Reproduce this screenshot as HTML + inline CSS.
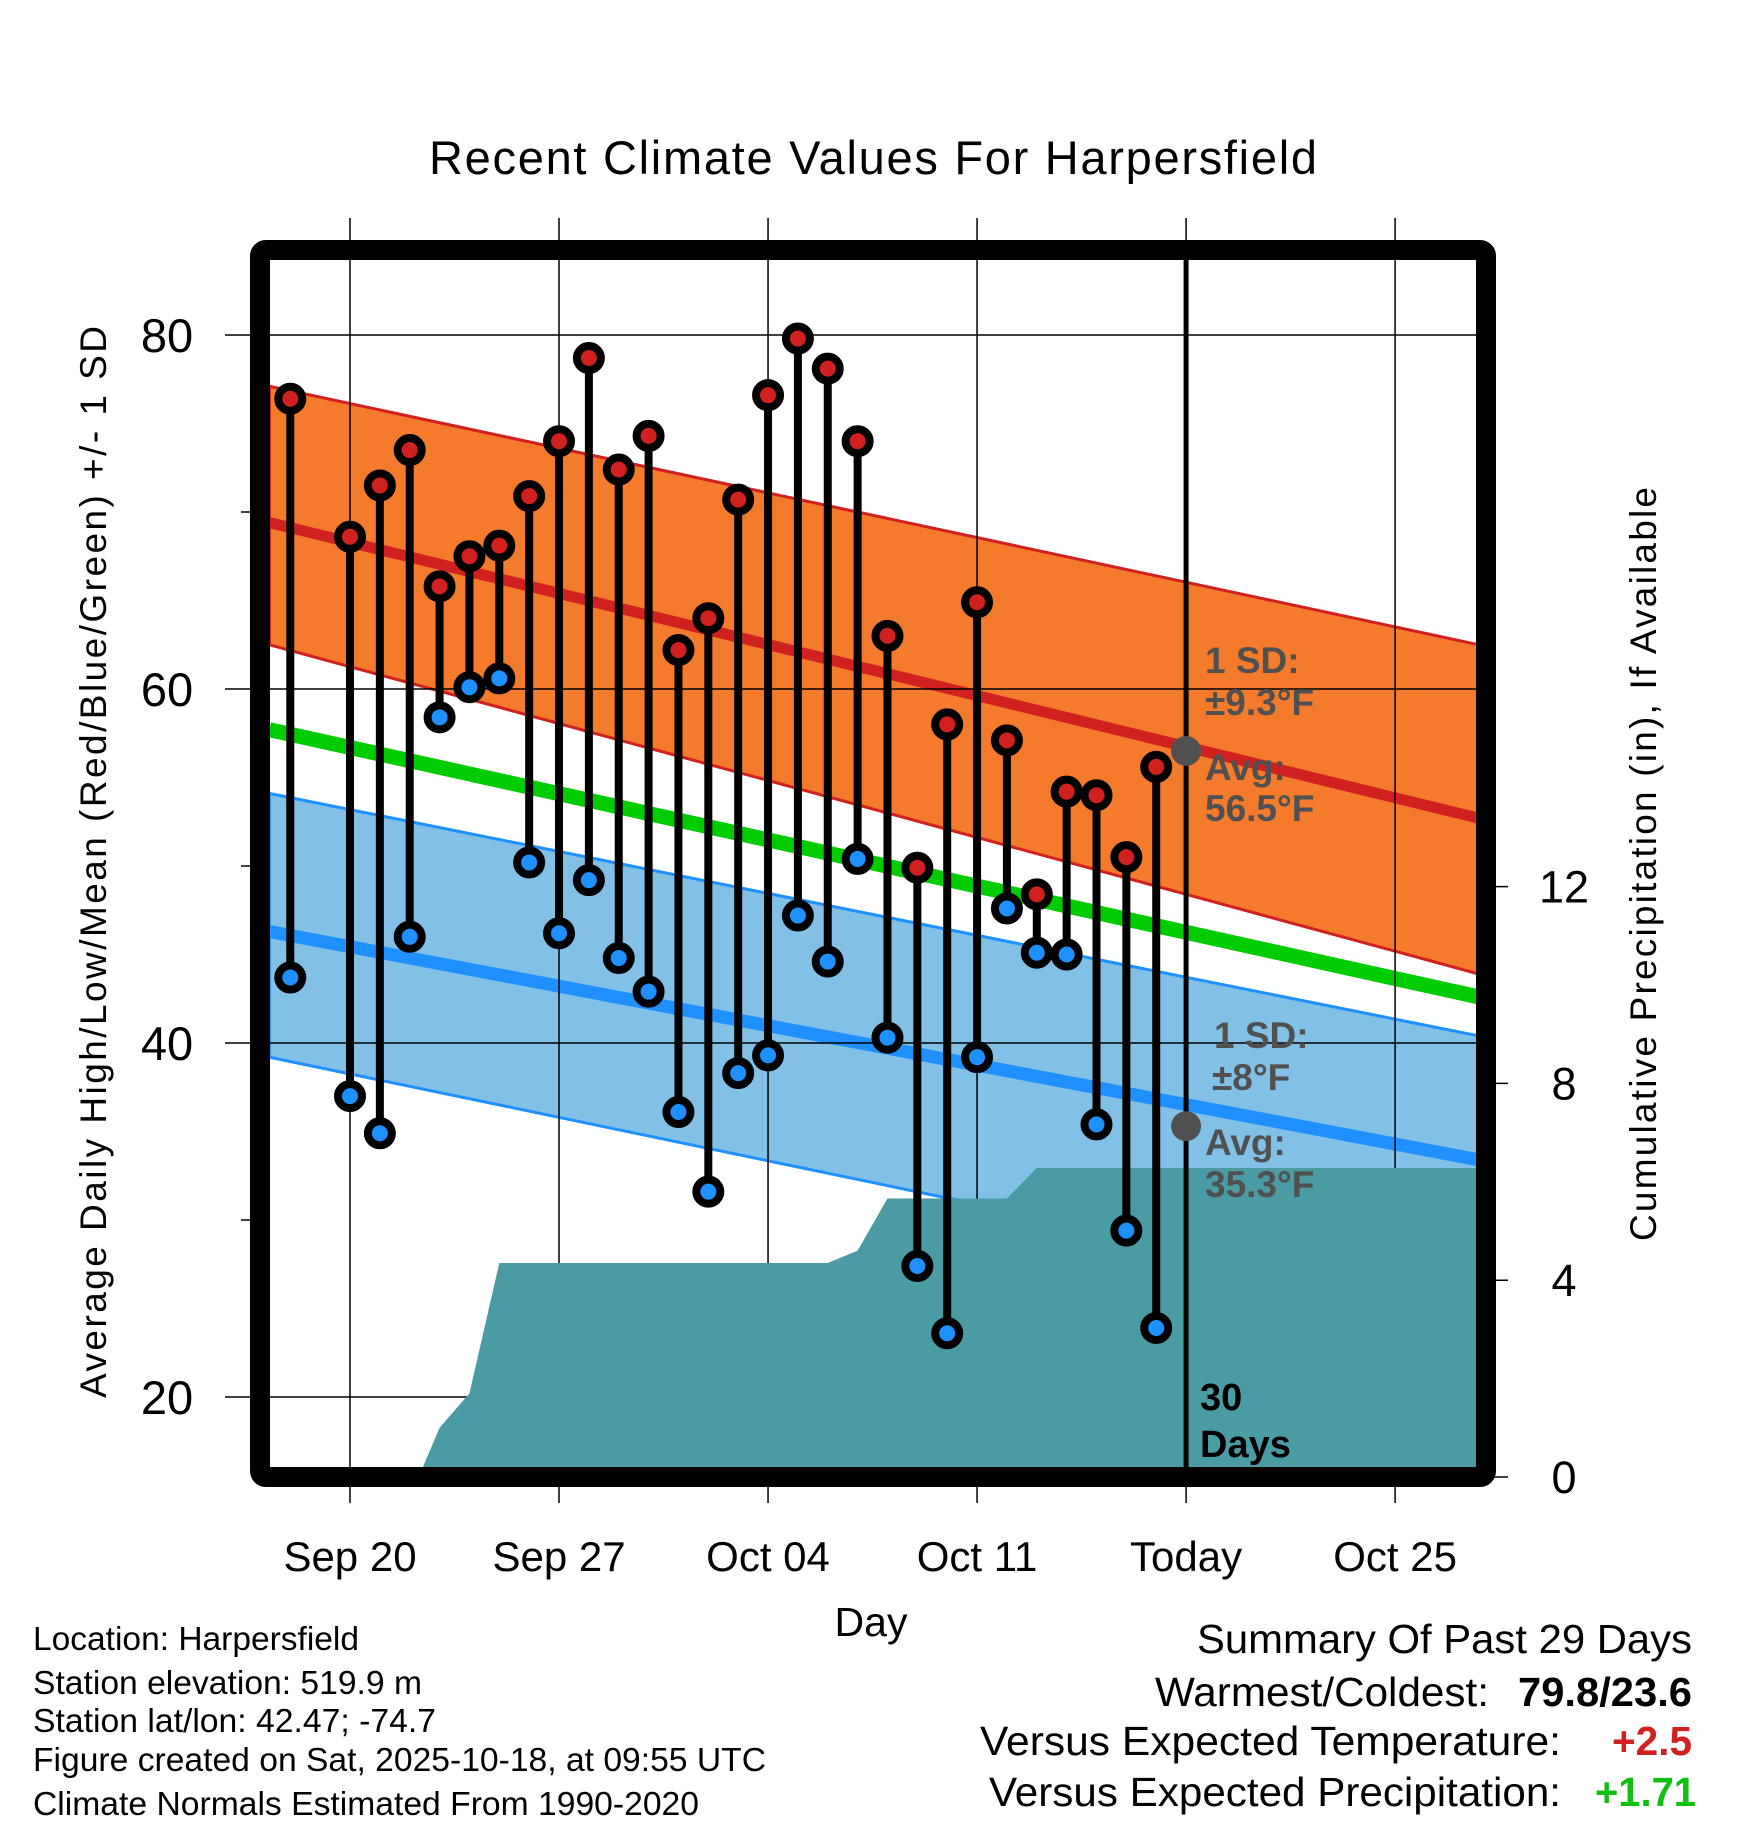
<!DOCTYPE html>
<html><head><meta charset="utf-8"><style>
body{margin:0;background:#fff}
svg{display:block;font-family:"Liberation Sans",Arial,sans-serif}
</style></head><body>
<svg id="chart" width="1748" height="1828" viewBox="0 0 1748 1828">
<defs><clipPath id="plotclip"><rect x="270" y="260" width="1208" height="1208"/></clipPath></defs>
<g id="bands" clip-path="url(#plotclip)"></g>
<g id="grid"></g>
<g id="precip" clip-path="url(#plotclip)"></g>
<g id="marks"></g>
<rect x="260" y="250" width="1226" height="1227" rx="6" fill="none" stroke="#000" stroke-width="20"/>
<text x="873" y="174" font-size="47" text-anchor="middle" textLength="888">Recent Climate Values For Harpersfield</text>
<text transform="translate(106,862) rotate(-90)" font-size="37" text-anchor="middle" textLength="1072">Average Daily High/Low/Mean (Red/Blue/Green) +/- 1 SD</text>
<text transform="translate(1656,864) rotate(-90)" font-size="37" text-anchor="middle" textLength="754">Cumulative Precipitation (in), If Available</text>
<text x="871" y="1636" font-size="41" text-anchor="middle">Day</text>
<g font-size="37" fill="#505050" font-weight="bold">
<text x="1205" y="673">1 SD:</text>
<text x="1205" y="715">±9.3°F</text>
<text x="1205" y="780">Avg:</text>
<text x="1205" y="821">56.5°F</text>
<text x="1214" y="1048">1 SD:</text>
<text x="1212" y="1090">±8°F</text>
<text x="1205" y="1155">Avg:</text>
<text x="1205" y="1197">35.3°F</text>
</g>
<g font-size="38" font-weight="bold">
<text x="1200" y="1410">30</text><text x="1200" y="1457">Days</text>
</g>
<g font-size="33" lengthAdjust="spacingAndGlyphs">
<text x="33" y="1650" textLength="326" lengthAdjust="spacingAndGlyphs">Location: Harpersfield</text>
<text x="33" y="1694" textLength="389" lengthAdjust="spacingAndGlyphs">Station elevation: 519.9 m</text>
<text x="33" y="1732" textLength="403" lengthAdjust="spacingAndGlyphs">Station lat/lon: 42.47; -74.7</text>
<text x="33" y="1771" textLength="733" lengthAdjust="spacingAndGlyphs">Figure created on Sat, 2025-10-18, at 09:55 UTC</text>
<text x="33" y="1815" textLength="666" lengthAdjust="spacingAndGlyphs">Climate Normals Estimated From 1990-2020</text>
</g>
<g font-size="41">
<text x="1197" y="1653" textLength="495" lengthAdjust="spacingAndGlyphs">Summary Of Past 29 Days</text>
<text x="1155" y="1706" textLength="334" lengthAdjust="spacingAndGlyphs">Warmest/Coldest:</text>
<text x="1518" y="1706" font-weight="bold" textLength="174" lengthAdjust="spacingAndGlyphs">79.8/23.6</text>
<text x="980" y="1755" textLength="581" lengthAdjust="spacingAndGlyphs">Versus Expected Temperature:</text>
<text x="1612" y="1755" font-weight="bold" fill="#D02020" textLength="80" lengthAdjust="spacingAndGlyphs">+2.5</text>
<text x="989" y="1806" textLength="572" lengthAdjust="spacingAndGlyphs">Versus Expected Precipitation:</text>
<text x="1595" y="1806" font-weight="bold" fill="#10C010" textLength="101" lengthAdjust="spacingAndGlyphs">+1.71</text>
</g>
</svg>
<script>
// day index 0 = Sep 18
const obsDays = [0,2,3,4,5,6,7,8,9,10,11,12,13,14,15,16,17,18,19,20,21,22,23,24,25,26,27,28,29];
const highs = [76.4,68.6,71.5,73.5,65.8,67.5,68.1,70.9,74.0,78.7,72.4,74.3,62.2,64.0,70.7,76.6,79.8,78.1,74.0,63.0,49.9,58.0,64.9,57.1,48.4,54.2,54.0,50.5,55.6];
const lows = [43.7,37.0,34.9,46.0,58.4,60.1,60.6,50.2,46.2,49.2,44.8,42.9,36.1,31.6,38.3,39.3,47.2,44.6,50.4,40.3,27.4,23.6,39.2,47.6,45.1,45.0,35.4,29.4,23.9];
const normDays = [-0.7, 39.8];
const hiUpper = [77.1, 62.5];
const hiMean = [69.4, 52.7];
const hiLower = [62.5, 43.9];
const meanLine = [57.7, 42.6];
const loUpper = [54.1, 40.4];
const loMean = [46.3, 33.4];
const loLower = [39.2, 25.0];
const precipDays = [4.3,5,6,7,18,19,20,24,25,39.8];
const precipVals = [0,1.0,1.7,4.35,4.35,4.6,5.66,5.66,6.28,6.28];
const xTickDays = [2,9,16,23,30,37];
const xTickLabels = ["Sep 20","Sep 27","Oct 04","Oct 11","Today","Oct 25"];
const yTicks = [80,60,40,20];
const yMinor = [70,50,30];
const pTicks = [0,4,8,12];
const todayDay = 30;
const todayHigh = 56.5, todayLow = 35.3;

const NS='http://www.w3.org/2000/svg';
const X = d => 350 + (d-2)*29.86;
const Y = t => 335 + (80-t)*17.7;
const P = p => 1477 - p*49.2;
function mk(parent, tag, attrs){const e=document.createElementNS(NS,tag);for(const k in attrs)e.setAttribute(k,attrs[k]);parent.appendChild(e);return e;}
const bands=document.getElementById('bands'), grid=document.getElementById('grid'), pr=document.getElementById('precip'), marks=document.getElementById('marks'), svg=document.getElementById('chart');
function band(up,lo,fill,edge,name){
  const pts=`${X(normDays[0])},${Y(up[0])} ${X(normDays[1])},${Y(up[1])} ${X(normDays[1])},${Y(lo[1])} ${X(normDays[0])},${Y(lo[0])}`;
  const p=mk(bands,'polygon',{points:pts,fill:fill,stroke:edge,'stroke-width':3});
  
  
}
function line(v,color,w,name){
  const l=mk(bands,'line',{x1:X(normDays[0]),y1:Y(v[0]),x2:X(normDays[1]),y2:Y(v[1]),stroke:color,'stroke-width':w});
  
  
}
band(hiUpper,hiLower,'#F47A2C','#D02020','high-sd-band');
line(hiMean,'#D02020',11,'normal-high-line');
line(meanLine,'#00CC00',15,'normal-mean-line');
band(loUpper,loLower,'#82C0E6','#1E90FF','low-sd-band');
line(loMean,'#1E90FF',13,'normal-low-line');
xTickDays.forEach((d,i)=>{
  const l=mk(grid,'line',{x1:X(d),x2:X(d),y1:218,y2:1503,stroke:'#000','stroke-width':1.5});
  
  
  const t=mk(svg,'text',{x:X(d),y:1571,'font-size':42,'text-anchor':'middle'});
  t.textContent=xTickLabels[i];
  
  
});
yTicks.forEach(v=>{
  const l=mk(grid,'line',{x1:225,x2:1478,y1:Y(v),y2:Y(v),stroke:'#000','stroke-width':1.5});
  
  
  const t=mk(svg,'text',{x:167,y:Y(v)+17,'font-size':47,'text-anchor':'middle'});
  t.textContent=v;
  
  
});
yMinor.forEach(v=>{
  const l=mk(grid,'line',{x1:241,x2:260,y1:Y(v),y2:Y(v),stroke:'#000','stroke-width':1.5});
  
  
});
pTicks.forEach(v=>{
  const l=mk(svg,'line',{x1:1486,x2:1508,y1:P(v),y2:P(v),stroke:'#000','stroke-width':1.5});
  
  
  const t=mk(svg,'text',{x:1564,y:P(v)+16,'font-size':45,'text-anchor':'middle'});
  t.textContent=v;
  
  
});
let pts=`${X(precipDays[0])},1480 `;
precipDays.forEach((d,i)=>{pts+=`${X(d)},${P(precipVals[i])} `;});
pts+=`${X(precipDays[precipDays.length-1])},1480`;
const pa=mk(pr,'polygon',{points:pts,fill:'#4A9BA3'});


const tl=mk(marks,'line',{x1:X(todayDay),x2:X(todayDay),y1:255,y2:1470,stroke:'#000','stroke-width':5});


[todayHigh,todayLow].forEach(v=>{
  const c=mk(marks,'circle',{cx:X(todayDay),cy:Y(v),r:15,fill:'#505050'});
  
  
});
obsDays.forEach((d,i)=>{
  const s=mk(marks,'line',{x1:X(d),x2:X(d),y1:Y(highs[i]),y2:Y(lows[i]),stroke:'#000','stroke-width':8});
  
  
  const h=mk(marks,'circle',{cx:X(d),cy:Y(highs[i]),r:12,fill:'#D02020',stroke:'#000','stroke-width':8});
  
  
  const lo=mk(marks,'circle',{cx:X(d),cy:Y(lows[i]),r:12,fill:'#1E90FF',stroke:'#000','stroke-width':8});
  
  
});
</script>
</body></html>
